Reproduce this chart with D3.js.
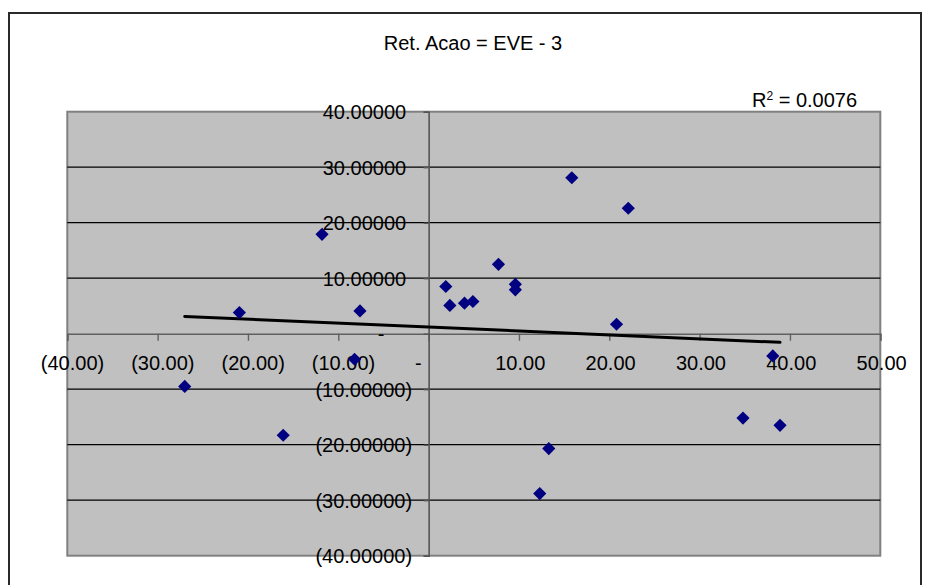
<!DOCTYPE html>
<html>
<head>
<meta charset="utf-8">
<script src="https://cdn.jsdelivr.net/npm/d3@7/dist/d3.min.js"></script>
<style>
  html, body { margin: 0; padding: 0; background: #ffffff; }
  svg { display: block; }
  text { font-family: "Liberation Sans", Arial, sans-serif; fill: #000; }
</style>
</head>
<body>
<svg id="chart" width="925" height="585"></svg>
<script>
// Scatter of stock return against EVE, with a linear trendline
const chartTitle = "Ret. Acao = EVE - 3";
const rSquaredText = "0.0076";

const xValues = [-27.0, -20.95, -16.1, -11.8, -8.2, -7.6, 1.9, 2.35, 3.97, 4.9, 7.73,
                 9.6, 9.6, 12.3, 13.3, 15.85, 20.8, 22.1, 34.8, 38.1, 38.9];
const yValues = [-9.5, 3.8, -18.3, 17.9, -4.6, 4.1, 8.5, 5.1, 5.5, 5.8, 12.5,
                 8.9, 7.9, -28.8, -20.7, 28.1, 1.7, 22.6, -15.2, -4.0, -16.5];

const xTickValues = [-40, -30, -20, -10, 0, 10, 20, 30, 40, 50];
const xTickLabels = ["(40.00)", "(30.00)", "(20.00)", "(10.00)", "-", "10.00", "20.00", "30.00", "40.00", "50.00"];
const yTickValues = [-40, -30, -20, -10, 0, 10, 20, 30, 40];
const yTickLabels = ["(40.00000)", "(30.00000)", "(20.00000)", "(10.00000)", "-", "10.00000", "20.00000", "30.00000", "40.00000"];

const svg = d3.select("#chart");

const plot = { left: 67.3, right: 880.3, top: 111.7, bottom: 555.7 };

const x = d3.scaleLinear().domain([-40, 50]).range([plot.left, plot.right]);
const y = d3.scaleLinear().domain([-40, 40]).range([plot.bottom, plot.top]);

// Outer chart frame
svg.append("rect")
  .attr("x", 9).attr("y", 13)
  .attr("width", 912).attr("height", 620)
  .attr("fill", "#ffffff")
  .attr("stroke", "#2a2a2a")
  .attr("stroke-width", 2);

// Title
svg.append("text")
  .attr("x", 473).attr("y", 49.5)
  .attr("text-anchor", "middle")
  .style("font-size", "20px")
  .text(chartTitle);

// R squared label
const r2 = svg.append("text")
  .attr("x", 752).attr("y", 107)
  .style("font-size", "20px");
r2.append("tspan").text("R");
r2.append("tspan").attr("dy", -7).style("font-size", "12px").text("2");
r2.append("tspan").attr("dy", 7).text(" = " + rSquaredText);

// Plot area background
svg.append("rect")
  .attr("x", plot.left).attr("y", plot.top)
  .attr("width", plot.right - plot.left)
  .attr("height", plot.bottom - plot.top)
  .attr("fill", "#c0c0c0")
  .attr("stroke", "#808080")
  .attr("stroke-width", 2);

// Horizontal gridlines
svg.append("g")
  .selectAll("line")
  .data(yTickValues.filter(v => v !== 0 && v !== 40 && v !== -40))
  .join("line")
  .attr("x1", plot.left).attr("x2", plot.right)
  .attr("y1", d => y(d)).attr("y2", d => y(d))
  .attr("stroke", "#000")
  .attr("stroke-width", 1.2);

// X axis through y = 0
const xAxis = d3.axisBottom(x)
  .tickValues(xTickValues)
  .tickSize(7)
  .tickPadding(15.6)
  .tickFormat((d, i) => xTickLabels[i]);

const gx = svg.append("g")
  .attr("transform", `translate(0,${y(0)})`)
  .call(xAxis);
gx.select(".domain").attr("stroke", "#606060").attr("stroke-width", 1.6);
gx.selectAll(".tick line").attr("stroke", "#606060").attr("stroke-width", 1.4);
gx.selectAll(".tick text")
  .style("font-size", "20px")
  .style("font-family", "'Liberation Sans', Arial, sans-serif")
  .attr("fill", "#000")
  .attr("dx", d => d < 0 ? 4.7 : (d === 0 ? -10.8 : 0.8));

// Y axis through x = 0
const yAxis = d3.axisLeft(y)
  .tickValues(yTickValues)
  .tickSize(5)
  .tickPadding(11.5)
  .tickFormat((d, i) => yTickLabels[i]);

const gy = svg.append("g")
  .attr("transform", `translate(${x(0)},0)`)
  .call(yAxis);
gy.select(".domain").attr("stroke", "#555").attr("stroke-width", 1.6);
gy.selectAll(".tick line").attr("stroke", "#555").attr("stroke-width", 1.4);
gy.selectAll(".tick text")
  .style("font-size", "20px")
  .style("font-family", "'Liberation Sans', Arial, sans-serif")
  .attr("fill", "#000")
  .attr("dy", "0.36em")
  .attr("dx", d => d < 0 ? 0 : (d === 0 ? -27.7 : -6));

// Least-squares trendline over the range of the data
const n = xValues.length;
const mx = d3.mean(xValues), my = d3.mean(yValues);
let sxy = 0, sxx = 0;
for (let i = 0; i < n; i++) {
  sxy += (xValues[i] - mx) * (yValues[i] - my);
  sxx += (xValues[i] - mx) ** 2;
}
const slope = sxy / sxx;
const intercept = my - slope * mx;
const [xmin, xmax] = d3.extent(xValues);

svg.append("line")
  .attr("x1", x(xmin)).attr("y1", y(intercept + slope * xmin))
  .attr("x2", x(xmax)).attr("y2", y(intercept + slope * xmax))
  .attr("stroke", "#000")
  .attr("stroke-width", 3)
  .attr("stroke-linecap", "round");

// Diamond markers
const diamond = "M0,-6.6L6.6,0L0,6.6L-6.6,0Z";
svg.append("g")
  .selectAll("path")
  .data(xValues.map((v, i) => [v, yValues[i]]))
  .join("path")
  .attr("d", diamond)
  .attr("transform", d => `translate(${x(d[0])},${y(d[1])})`)
  .attr("fill", "#000080");
</script>
</body>
</html>
